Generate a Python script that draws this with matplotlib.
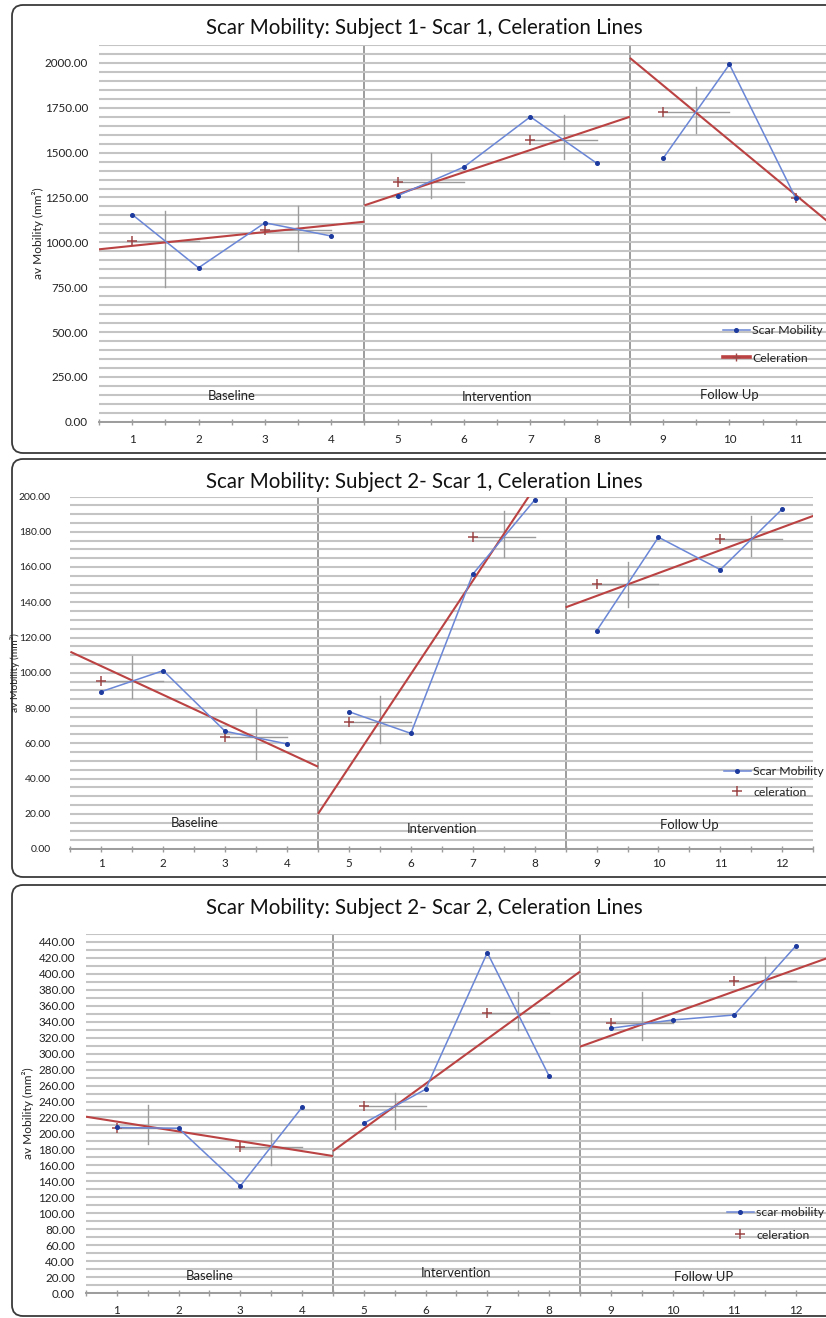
import matplotlib
matplotlib.use("Agg")
import matplotlib.pyplot as plt
from matplotlib.lines import Line2D
from matplotlib.patches import FancyBboxPatch
from matplotlib.ticker import MultipleLocator, FixedLocator
from matplotlib.transforms import IdentityTransform

plt.rcParams['font.family'] = ['Lato', 'DejaVu Sans']

# ---- data -------------------------------------------------------------
phase_bounds = [4.5, 8.5]

# Subject 1 - Scar 1
s1_sessions = list(range(1, 12))
s1_mobility = [1155, 858, 1109, 1035, 1260, 1420, 1700, 1441, 1468, 1992, 1245]
s1_cel_start = [961, 1206, 2028]      # celeration line value at phase start
s1_cel_end = [1115, 1700, 1110]       # celeration line value at phase end
s1_plus_x = [1, 3, 5, 7, 9, 11]
s1_plus_y = [1008, 1070, 1338, 1572, 1728, 1245]
s1_cross_lo = [750, 953, 1245, 1463, 1608]
s1_cross_hi = [1177, 1202, 1497, 1710, 1864]
s1_phases = ['Baseline', 'Intervention', 'Follow Up']

# Subject 2 - Scar 1
s2_sessions = list(range(1, 13))
s2_mobility = [89.3, 101.2, 66.8, 59.6, 77.9, 65.6, 155.9, 198.0, 123.7, 176.9, 158.5, 192.9]
s2_cel_start = [111.9, 19.9, 137.1]
s2_cel_end = [46.7, 231.5, 189.0]
s2_plus_x = [1, 3, 5, 7, 9, 11]
s2_plus_y = [95.5, 63.4, 72.2, 177.2, 150.4, 175.9]
s2_cross_lo = [85.7, 50.9, 60.3, 165.5, 137.5, 166.4]
s2_cross_hi = [109.5, 79.4, 87.0, 191.8, 163.0, 189.0]
s2_phases = ['Baseline', 'Intervention', 'Follow Up']

# Subject 2 - Scar 2
s3_sessions = list(range(1, 13))
s3_mobility = [207.5, 206.5, 134.3, 232.8, 212.8, 255.3, 426.3, 272.0, 331.7, 342.0, 348.3, 435.0]
s3_cel_start = [221.0, 178.0, 308.6]
s3_cel_end = [171.8, 402.5, 419.3]
s3_plus_x = [1, 3, 5, 7, 9, 11]
s3_plus_y = [206.5, 183.5, 234.4, 350.4, 338.7, 391.2]
s3_cross_lo = [186.9, 160.6, 205.0, 329.5, 317.0, 380.5]
s3_cross_hi = [235.7, 201.0, 251.0, 376.7, 376.7, 421.3]
s3_phases = ['Baseline', 'Intervention', 'Follow UP']

W, H = 826, 1318
BLUE_LINE = '#6a86d6'
BLUE_DOT = '#1d3a9e'
RED = '#bb4242'
PLUS = '#9e4646'
GRID = '#c4c4c4'
GREY = '#9c9c9c'
TXT = '#222222'

fig = plt.figure(figsize=(W / 100, H / 100), dpi=100)


def px_axes(x0, x1, ytop, ybot):
    return fig.add_axes([x0 / W, (H - ybot) / H, (x1 - x0) / W, (ybot - ytop) / H])


def frame(y0, y1):
    box = FancyBboxPatch((12, H - y1), 850, y1 - y0,
                         boxstyle='round,pad=0,rounding_size=11',
                         transform=IdentityTransform(), facecolor='white',
                         edgecolor='#3a3a3a', lw=1.3, zorder=-10)
    fig.patches.append(box)


def panel(ax, sessions, mobility, cel_start, cel_end, plus_x, plus_y,
          cross_lo, cross_hi, phases, ymax, ystep, ymajor, ypad, xpad, tick_fs,
          title, title_y, ylab_x, ylab_fs, leg_labels, leg_pos, leg_space,
          cel_line_handle, label_y):
    n = len(sessions)
    ax.set_xlim(0.5, n + 0.5)
    ax.set_ylim(0, ymax)
    for s in ['top', 'right', 'left']:
        ax.spines[s].set_visible(False)
    ax.spines['bottom'].set_color(GREY)
    ax.spines['bottom'].set_linewidth(1.4)

    ax.yaxis.set_major_locator(FixedLocator([v for v in range(0, int(ymax) + 1, ymajor)]))
    ax.yaxis.set_minor_locator(MultipleLocator(ystep))
    ax.yaxis.set_major_formatter(lambda v, p: f'{v:.2f}')
    ax.grid(axis='y', which='both', color=GRID, lw=1.5, zorder=0)
    ax.tick_params(axis='y', which='both', length=0, pad=ypad, labelsize=tick_fs,
                   colors=TXT)

    ax.set_xticks(sessions)
    ax.xaxis.set_minor_locator(MultipleLocator(1, offset=0.5))
    ax.tick_params(axis='x', which='both', direction='inout', length=5, width=1,
                   color=GREY, pad=xpad, labelsize=8.4, labelcolor=TXT)

    # phase dividers
    for b in phase_bounds:
        ax.axvline(b, color=GREY, lw=1.4, zorder=1)

    edges = [0.5] + phase_bounds + [n + 0.5]
    for i, name in enumerate(phases):
        ax.text((edges[i] + edges[i + 1]) / 2, label_y[i], name,
                ha='center', va='center', fontsize=9.4, color=TXT)

    # median crosses (quarter-intersect)
    for k in range(len(cross_lo)):
        cx = plus_x[k] + 0.5
        ax.plot([plus_x[k], plus_x[k] + 1], [plus_y[k], plus_y[k]],
                color=GREY, lw=1, zorder=2)
        ax.plot([cx, cx], [cross_lo[k], cross_hi[k]], color=GREY, lw=1, zorder=2)

    # celeration line and data path, one segment per phase
    for i in range(3):
        ax.plot([edges[i], edges[i + 1]], [cel_start[i], cel_end[i]],
                color=RED, lw=1.5, zorder=3, solid_capstyle='butt')
        xs = [x for x in sessions if edges[i] < x < edges[i + 1]]
        ys = [mobility[sessions.index(x)] for x in xs]
        ax.plot(xs, ys, color=BLUE_LINE, lw=1.1, marker='o', ms=2.6,
                mfc=BLUE_DOT, mec=BLUE_DOT, zorder=5)

    ax.plot(plus_x, plus_y, ls='none', marker='+', ms=7, mew=1.1,
            color=PLUS, zorder=4)

    fig.text(424.5 / W, 1 - title_y / H, title, ha='center', va='center',
             fontsize=14.8, color='#111111')
    pos = ax.get_position()
    fig.text(ylab_x / W, pos.y0 + pos.height / 2, 'av Mobility (mm²)',
             rotation=90, ha='center', va='center', fontsize=ylab_fs, color=TXT)

    mob_h = Line2D([], [], color=BLUE_LINE, lw=1.1, marker='o', ms=2.6,
                   mfc=BLUE_DOT, mec=BLUE_DOT)
    if cel_line_handle:
        cel_h = Line2D([], [], color=RED, lw=2.6, marker='+', ms=6, mew=1,
                       mec=PLUS)
    else:
        cel_h = Line2D([], [], ls='none', marker='+', ms=7, mew=1.1, color=PLUS)
    ax.legend([mob_h, cel_h], leg_labels, loc='upper left',
              bbox_to_anchor=(leg_pos[0], H - leg_pos[1]),
              bbox_transform=IdentityTransform(), frameon=False,
              borderpad=0, borderaxespad=0, handlelength=2.2,
              handletextpad=0.2, labelspacing=leg_space, fontsize=8.8,
              labelcolor=TXT)


frame(5, 453)
frame(459, 877)
frame(885, 1316)

ax1 = px_axes(99, 829, 45, 421.7)
panel(ax1, s1_sessions, s1_mobility, s1_cel_start, s1_cel_end, s1_plus_x,
      s1_plus_y, s1_cross_lo, s1_cross_hi, s1_phases, 2100, 50, 250, 8, 6, 8.4,
      'Scar Mobility: Subject 1- Scar 1, Celeration Lines', 28, 38, 8.6,
      ['Scar Mobility', 'Celeration'], (723, 325), 1.35, True, [143, 138, 149])

ax2 = px_axes(70.4, 813.2, 496.5, 849)
panel(ax2, s2_sessions, s2_mobility, s2_cel_start, s2_cel_end, s2_plus_x,
      s2_plus_y, s2_cross_lo, s2_cross_hi, s2_phases, 200, 5, 20, 14, 4, 7.5,
      'Scar Mobility: Subject 2- Scar 1, Celeration Lines', 481.5, 15, 7.4,
      ['Scar Mobility', 'celeration'], (724, 766), 0.78, False, [14.7, 11.3, 13.6])

ax3 = px_axes(86, 826.9, 933.7, 1293.3)
panel(ax3, s3_sessions, s3_mobility, s3_cel_start, s3_cel_end, s3_plus_x,
      s3_plus_y, s3_cross_lo, s3_cross_hi, s3_phases, 450, 10, 20, 8, 6, 8.4,
      'Scar Mobility: Subject 2- Scar 2, Celeration Lines', 907.5, 28, 8.6,
      ['scar mobility', 'celeration'], (727, 1207), 0.95, False, [22, 25.8, 20.8])

fig.savefig('out.png', dpi=100)
